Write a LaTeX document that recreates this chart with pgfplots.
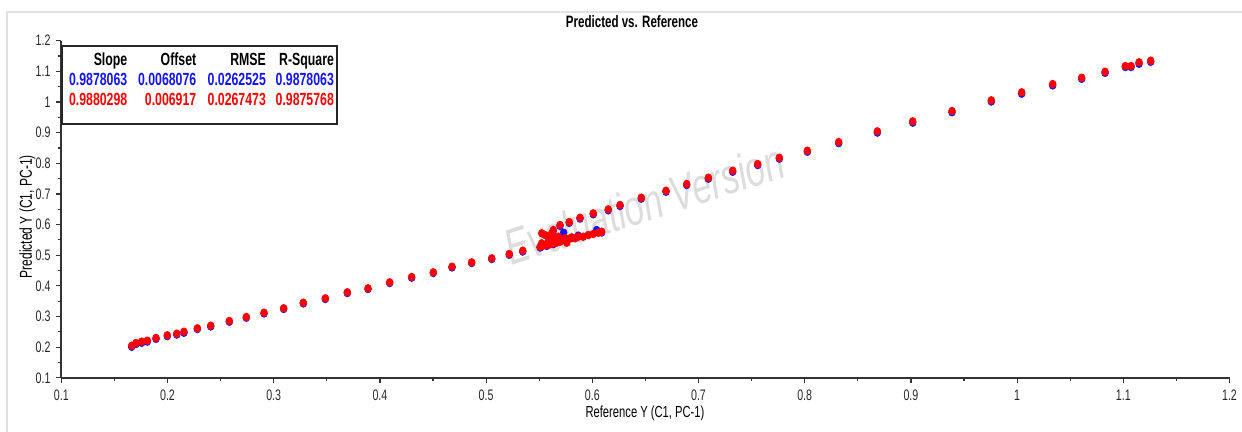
\documentclass[border=0pt]{standalone}
\usepackage{fontspec}
\setmainfont{Liberation Sans}[FakeStretch=0.7]
\usepackage{pgfplots}
\pgfplotsset{compat=1.18}
\definecolor{ptblue}{RGB}{20,20,255}
\definecolor{ptred}{RGB}{255,0,0}
\definecolor{frame}{RGB}{225,225,225}
\definecolor{wmark}{RGB}{220,220,220}

% predicted vs reference, red = second model, blue = first model
\pgfplotstableread{
x y
0.1663 0.2047
0.1703 0.2135
0.1757 0.2178
0.1810 0.2210
0.1892 0.2299
0.1998 0.2387
0.2087 0.2439
0.2155 0.2504
0.2281 0.2615
0.2407 0.2700
0.2582 0.2853
0.2742 0.2984
0.2909 0.3124
0.3094 0.3268
0.3279 0.3450
0.3486 0.3594
0.3693 0.3790
0.3888 0.3920
0.4092 0.4116
0.4299 0.4289
0.4503 0.4442
0.4679 0.4625
0.4864 0.4768
0.5053 0.4899
0.5218 0.5039
0.5345 0.5147
0.5508 0.5277
0.5539 0.5310
0.5571 0.5333
0.5602 0.5356
0.5633 0.5388
0.5665 0.5408
0.5524 0.5388
0.5586 0.5440
0.5633 0.5496
0.5696 0.5440
0.5759 0.5408
0.5524 0.5715
0.5555 0.5659
0.5586 0.5604
0.5618 0.5715
0.5649 0.5551
0.5680 0.5604
0.5712 0.5496
0.5743 0.5551
0.5774 0.5519
0.5806 0.5584
0.5837 0.5551
0.5868 0.5604
0.5915 0.5604
0.5962 0.5659
0.6009 0.5692
0.6056 0.5734
0.6088 0.5767
0.5633 0.5822
0.5696 0.5985
0.5783 0.6083
0.5884 0.6224
0.6009 0.6367
0.6150 0.6497
0.6261 0.6638
0.6461 0.6876
0.6694 0.7104
0.6889 0.7323
0.7093 0.7529
0.7322 0.7757
0.7557 0.7976
0.7761 0.8181
0.8025 0.8410
0.8320 0.8693
0.8684 0.9042
0.9017 0.9369
0.9387 0.9705
0.9757 1.0054
1.0043 1.0315
1.0335 1.0586
1.0608 1.0791
1.0828 1.0987
1.1019 1.1173
1.1073 1.1173
1.1148 1.1294
1.1258 1.1346
}\redpts

\pgfplotstableread{
x y
0.1663 0.2012
0.1703 0.2100
0.1757 0.2143
0.1810 0.2180
0.1892 0.2270
0.1998 0.2360
0.2087 0.2412
0.2155 0.2470
0.2281 0.2590
0.2407 0.2675
0.2582 0.2830
0.2742 0.2960
0.2909 0.3100
0.3094 0.3245
0.3279 0.3425
0.3486 0.3570
0.3693 0.3765
0.3888 0.3895
0.4092 0.4092
0.4299 0.4265
0.4503 0.4418
0.4679 0.4600
0.4864 0.4745
0.5053 0.4875
0.5218 0.5015
0.5345 0.5120
0.5508 0.5250
0.5571 0.5305
0.5633 0.5360
0.5730 0.5734
0.5868 0.5640
0.6041 0.5822
0.5806 0.5560
0.6088 0.5740
0.5633 0.5795
0.5696 0.5955
0.5783 0.6055
0.5884 0.6195
0.6009 0.6335
0.6150 0.6465
0.6261 0.6605
0.6461 0.6845
0.6694 0.7070
0.6889 0.7290
0.7093 0.7495
0.7322 0.7722
0.7557 0.7940
0.7761 0.8150
0.8025 0.8375
0.8320 0.8655
0.8684 0.9000
0.9017 0.9325
0.9387 0.9665
0.9757 1.0015
1.0043 1.0270
1.0335 1.0540
1.0608 1.0755
1.0828 1.0950
1.1019 1.1140
1.1073 1.1140
1.1148 1.1245
1.1258 1.1310
}\bluepts

\begin{document}
\begin{tikzpicture}[x=1pt,y=1pt]
\useasboundingbox (-30.65,-27.1) rectangle (590.35,188.9);
\draw[frame, line width=0.7pt] (-27.15,-27.1) -- (-27.15,182.9) -- (590.35,182.9);
\node[rotate=18, text=wmark, font=\fontsize{25}{25}\selectfont\itshape] at (291.35,86.9) {Evaluation Version};

\begin{axis}[
    scale only axis,
    width=584.1pt, height=168.55pt,
    xmin=0.1, xmax=1.2, ymin=0.1, ymax=1.2,
    axis x line*=bottom, axis y line*=left,
    axis line style={-, line width=1pt, black!80},
    xtick={0.1,0.2,0.3,0.4,0.5,0.6,0.7,0.8,0.9,1,1.1,1.2},
    ytick={0.1,0.2,0.3,0.4,0.5,0.6,0.7,0.8,0.9,1,1.1,1.2},
    minor x tick num=1, minor y tick num=1,
    tick align=outside,
    major tick length=2.5pt, minor tick length=1.5pt,
    tick style={black!80, line width=0.6pt},
    ticklabel style={font=\fontsize{7.6}{8}\selectfont, text=black!85},
    yticklabel style={xshift=0.6pt},
    /pgf/number format/assume math mode=true,
    mark size=1.9pt,
]
\addplot[only marks, mark=*, color=ptblue, mark options={xscale=0.88}] table {\bluepts};
\addplot[only marks, mark=*, color=ptred, mark options={xscale=0.88}] table {\redpts};
\end{axis}

\node[font=\fontsize{8.25}{9}\selectfont\bfseries] at (285.35,177.9) {Predicted vs. Reference};
\node[font=\fontsize{8}{9}\selectfont] at (291.85,-17.6) {Reference Y (C1, PC-1)};
\node[rotate=90, font=\fontsize{8.6}{10}\selectfont] at (-17,80.5) {Predicted Y (C1, PC-1)};

\draw[draw=black!85, fill=white, line width=0.75pt] (0.35,126.9) rectangle (137.85,165.9);
\begin{scope}[every node/.style={anchor=base east, inner sep=0pt, font=\fontsize{8.8}{10}\selectfont\bfseries}]
\node at (33.2,156.05) {Slope};
\node at (67.7,156.05) {Offset};
\node at (102.5,156.05) {RMSE};
\node at (136.5,156.05) {R-Square};
\node[text=ptblue] at (33.2,145.9) {0.9878063};
\node[text=ptblue] at (67.7,145.9) {0.0068076};
\node[text=ptblue] at (102.5,145.9) {0.0262525};
\node[text=ptblue] at (136.5,145.9) {0.9878063};
\node[text=ptred] at (33.2,135.9) {0.9880298};
\node[text=ptred] at (67.7,135.9) {0.006917};
\node[text=ptred] at (102.5,135.9) {0.0267473};
\node[text=ptred] at (136.5,135.9) {0.9875768};
\end{scope}
\end{tikzpicture}
\end{document}
